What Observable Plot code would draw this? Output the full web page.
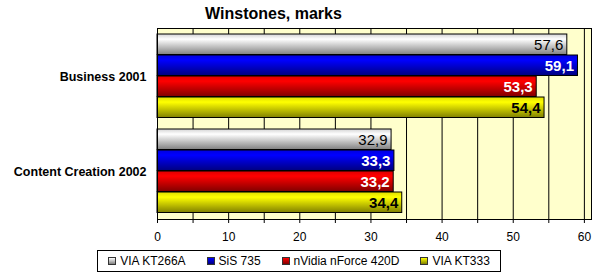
<!DOCTYPE html>
<html>
<head>
<meta charset="utf-8">
<script src="https://cdn.jsdelivr.net/npm/d3@7"></script>
<script src="https://cdn.jsdelivr.net/npm/@observablehq/plot@0.6"></script>
<style>
  html, body { margin: 0; padding: 0; background: #fff; }
  body { width: 598px; height: 280px; overflow: hidden; font-family: "Liberation Sans", Arial, sans-serif; color: #000; }
  #title { width: 547px; height: 27px; line-height: 28px; text-align: center; font-weight: bold; font-size: 16px; }
  #chart svg { display: block; }
  #legendWrap { display: flex; justify-content: center; margin-top: 6px; }
  #legend { display: inline-flex; align-items: center; height: 20px; border: 1px solid #000; padding: 0 10px; gap: 21px; font-size: 12px; background: #fff; }
  .item { display: flex; align-items: center; gap: 4px; white-space: nowrap; }
  .sw { width: 6px; height: 6px; border: 1px solid #333; }
</style>
</head>
<body>
<div id="title"></div>
<div id="chart"></div>
<div id="legendWrap"><div id="legend"></div></div>
<script>
const titleText = "Winstones, marks";
const categories = ["Business 2001", "Content Creation 2002"];
const seriesNames = ["VIA KT266A", "SiS 735", "nVidia nForce 420D", "VIA KT333"];
const viaKT266A = [57.6, 32.9];
const sis735 = [59.1, 33.3];
const nforce420D = [53.3, 33.2];
const viaKT333 = [54.4, 34.4];
const seriesValues = [viaKT266A, sis735, nforce420D, viaKT333];
const tickLabels = [0, 10, 20, 30, 40, 50, 60];
const gridTicks = [5, 10, 15, 20, 25, 30, 35, 40, 45, 50, 55, 60];

// styles
const gradients = [
  ["#d4d4d4", "#ffffff", "#808080"],
  ["#0000dd", "#0000ff", "#000080"],
  ["#dd0000", "#ff0000", "#800000"],
  ["#dddd00", "#ffff00", "#808000"]
];
const labelColors = ["#000", "#fff", "#fff", "#000"];
const labelWeights = ["normal", "bold", "bold", "bold"];

const rows = seriesNames.map((s, i) => categories.map((c, j) => ({series: s, category: c, value: seriesValues[i][j]})));

const band = 95.5, pad0 = 5, barH = 21;
const bars = rows.map((data, i) => Plot.barX(data, {
  x: "value", y: "category",
  fill: `url(#grad${i})`, stroke: "#000", strokeWidth: 1,
  insetTop: pad0 + barH * i,
  insetBottom: band - pad0 - barH * (i + 1)
}));
const labels = rows.map((data, i) => Plot.text(data, {
  x: "value", y: "category",
  text: d => d.value.toFixed(1).replace(".", ","),
  textAnchor: "end", dx: -4,
  dy: pad0 + barH * i + barH / 2 - band / 2,
  fill: labelColors[i], fontWeight: labelWeights[i], fontSize: 15
}));

const chart = Plot.plot({
  width: 598, height: 217,
  marginLeft: 157, marginRight: 7, marginTop: 1, marginBottom: 25,
  x: {domain: [0, 61], label: null},
  y: {domain: categories, padding: 0, label: null},
  style: {fontFamily: "'Liberation Sans', Arial, sans-serif", fontSize: "12px", color: "#000", background: "transparent", overflow: "visible"},
  marks: [
    Plot.frame({fill: "#ffffcc"}),
    Plot.ruleX(gridTicks, {stroke: "#000", strokeWidth: 1}),
    ...bars,
    ...labels,
    Plot.frame({stroke: "#000"}),
    Plot.ruleX([0], {stroke: "#000"}),
    Plot.axisX({ticks: gridTicks.concat([0]), tickSize: 4, tickPadding: 9, tickFormat: d => tickLabels.includes(d) ? d : "", label: null}),
    Plot.axisY({tickSize: 0, tickPadding: 11, fontWeight: "bold", fontSize: 12.5, label: null})
  ]
});

// gradient defs
const ns = "http://www.w3.org/2000/svg";
const defs = document.createElementNS(ns, "defs");
gradients.forEach((g, i) => {
  const lg = document.createElementNS(ns, "linearGradient");
  lg.setAttribute("id", `grad${i}`);
  lg.setAttribute("x1", "0"); lg.setAttribute("y1", "0");
  lg.setAttribute("x2", "0"); lg.setAttribute("y2", "1");
  [[0, g[0]], [0.25, g[1]], [1, g[2]]].forEach(([o, c]) => {
    const st = document.createElementNS(ns, "stop");
    st.setAttribute("offset", o);
    st.setAttribute("stop-color", c);
    lg.appendChild(st);
  });
  defs.appendChild(lg);
});
chart.insertBefore(defs, chart.firstChild);

document.getElementById("title").textContent = titleText;
document.getElementById("chart").appendChild(chart);

const legend = document.getElementById("legend");
seriesNames.forEach((s, i) => {
  const it = document.createElement("div");
  it.className = "item";
  const sw = document.createElement("div");
  sw.className = "sw";
  sw.style.background = `linear-gradient(${gradients[i][1]}, ${gradients[i][2]})`;
  const t = document.createElement("span");
  t.textContent = s;
  it.appendChild(sw); it.appendChild(t);
  legend.appendChild(it);
});
</script>
</body>
</html>
